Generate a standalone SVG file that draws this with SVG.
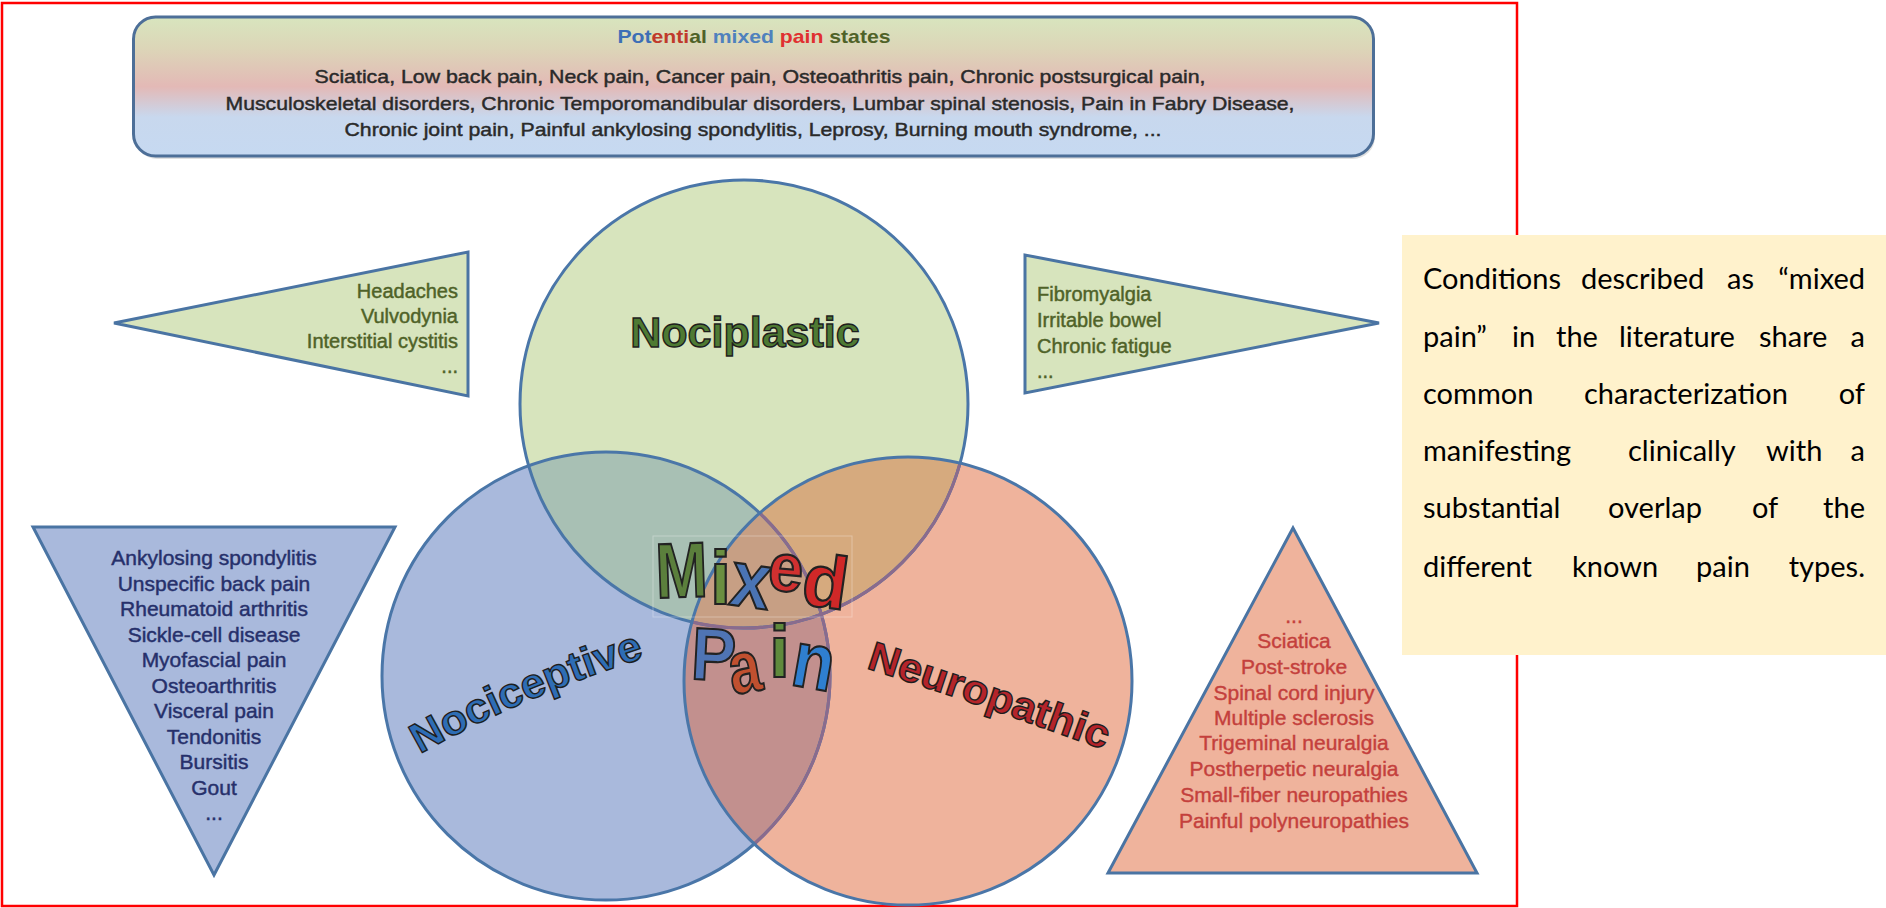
<svg xmlns="http://www.w3.org/2000/svg" width="1886" height="908" viewBox="0 0 1886 908">
<defs>
  <linearGradient id="boxGrad" x1="0" y1="0" x2="0" y2="1">
    <stop offset="0" stop-color="#d8e5be"/>
    <stop offset="0.22" stop-color="#dcd6b8"/>
    <stop offset="0.5" stop-color="#e3b9b6"/>
    <stop offset="0.72" stop-color="#c8d8ee"/>
    <stop offset="1" stop-color="#c6d9f1"/>
  </linearGradient>
  <clipPath id="cGreen"><circle cx="744" cy="404" r="224"/></clipPath>
  <clipPath id="cBlue"><circle cx="606" cy="676" r="224"/></clipPath>
  <clipPath id="cRed"><circle cx="908" cy="681" r="224"/></clipPath>
  <path id="pNoci" d="M 420,754 Q 522,696 656,654"/>
  <path id="pNeuro" d="M 866,668 Q 985,706 1110,752"/>
  <style>
    .shape { stroke:#4a74a3; stroke-width:3; }
    .ring { fill:none; stroke:#4a76a8; stroke-width:3; }
    .ringIn { fill:none; stroke:#8a6b8d; stroke-width:3; }
    .sans { font-family:"Liberation Sans", Arial, sans-serif; }
    .body { font-size:19px; fill:#2a2a2a; stroke:#2a2a2a; stroke-width:0.45; }
    .lst { font-size:20px; stroke-width:0.45; }
    .gtxt { fill:#4f6228; stroke:#4f6228; }
    .btxt { fill:#26306b; stroke:#26306b; font-size:21px; stroke-width:0.45; }
    .rtxt { fill:#c4403c; stroke:#c4403c; font-size:21px; stroke-width:0.4; }
    .big { font-weight:bold; stroke:#1e1e1e; stroke-width:1.4; }
    .wa { font-family:"Liberation Sans", Arial, sans-serif; font-weight:bold; stroke:#222; stroke-width:2.2; text-anchor:middle; }
    .note { font-family:Lato, "Open Sans", sans-serif; font-size:29px; fill:#000; }
  </style>
</defs>

<rect x="0" y="0" width="1886" height="908" fill="#ffffff"/>

<!-- outer red frame -->
<rect id="frame" x="2" y="3" width="1515" height="903" fill="none" stroke="#ff0000" stroke-width="2.5"/>

<!-- top box -->
<g id="states-box">
  <rect x="135" y="20" width="1240" height="139" rx="22" fill="#000" opacity="0.12"/>
  <rect x="133.5" y="17" width="1240" height="139" rx="22" fill="url(#boxGrad)" stroke="#4d6f98" stroke-width="3"/>
  <text class="sans" x="754" y="43" text-anchor="middle" font-size="19" font-weight="bold" textLength="273" lengthAdjust="spacingAndGlyphs"><tspan fill="#3d6fb6">Pot</tspan><tspan fill="#c0392b">enti</tspan><tspan fill="#4f6228">al</tspan> <tspan fill="#4f81bd">mixed</tspan> <tspan fill="#e03030">pain</tspan> <tspan fill="#4f6228">states</tspan></text>
  <text class="sans body" x="760" y="83" text-anchor="middle" textLength="891" lengthAdjust="spacingAndGlyphs">Sciatica, Low back pain, Neck pain, Cancer pain, Osteoathritis pain, Chronic postsurgical pain,</text>
  <text class="sans body" x="760" y="110" text-anchor="middle" textLength="1069" lengthAdjust="spacingAndGlyphs">Musculoskeletal disorders, Chronic Temporomandibular disorders, Lumbar spinal stenosis, Pain in Fabry Disease,</text>
  <text class="sans body" x="753" y="136" text-anchor="middle" textLength="817" lengthAdjust="spacingAndGlyphs">Chronic joint pain, Painful ankylosing spondylitis, Leprosy, Burning mouth syndrome, ...</text>
</g>

<!-- side triangles -->
<g id="nociplastic-left">
  <polygon class="shape" points="114,323 468,252 468,396" fill="#d7e4bd"/>
  <g class="sans lst gtxt" text-anchor="end">
    <text x="458" y="298">Headaches</text>
    <text x="458" y="323">Vulvodynia</text>
    <text x="458" y="348">Interstitial cystitis</text>
    <text x="458" y="373">...</text>
  </g>
</g>
<g id="nociplastic-right">
  <polygon class="shape" points="1025,255 1025,393 1379,323" fill="#d7e4bd"/>
  <g class="sans lst gtxt">
    <text x="1037" y="301">Fibromyalgia</text>
    <text x="1037" y="327">Irritable bowel</text>
    <text x="1037" y="353">Chronic fatigue</text>
    <text x="1037" y="378">...</text>
  </g>
</g>
<g id="nociceptive-list">
  <polygon class="shape" points="33,527 395,527 214,875" fill="#a9b9dc"/>
  <g class="sans btxt" text-anchor="middle">
    <text x="214" y="565">Ankylosing spondylitis</text>
    <text x="214" y="591">Unspecific back pain</text>
    <text x="214" y="616">Rheumatoid arthritis</text>
    <text x="214" y="642">Sickle-cell disease</text>
    <text x="214" y="667">Myofascial pain</text>
    <text x="214" y="693">Osteoarthritis</text>
    <text x="214" y="718">Visceral pain</text>
    <text x="214" y="744">Tendonitis</text>
    <text x="214" y="769">Bursitis</text>
    <text x="214" y="795">Gout</text>
    <text x="214" y="820">...</text>
  </g>
</g>
<g id="neuropathic-list">
  <polygon class="shape" points="1293,528 1477,873 1108,873" fill="#efb39c"/>
  <g class="sans rtxt" text-anchor="middle">
    <text x="1294" y="623">...</text>
    <text x="1294" y="648">Sciatica</text>
    <text x="1294" y="674">Post-stroke</text>
    <text x="1294" y="700">Spinal cord injury</text>
    <text x="1294" y="725">Multiple sclerosis</text>
    <text x="1294" y="750">Trigeminal neuralgia</text>
    <text x="1294" y="776">Postherpetic neuralgia</text>
    <text x="1294" y="802">Small-fiber neuropathies</text>
    <text x="1294" y="828">Painful polyneuropathies</text>
  </g>
</g>

<!-- Venn circles -->
<g id="venn">
  <circle id="nociplastic" cx="744" cy="404" r="224" fill="#d7e4bd"/>
  <circle id="nociceptive" cx="606" cy="676" r="224" fill="#a9b9dc"/>
  <circle id="neuropathic" cx="908" cy="681" r="224" fill="#efb39c"/>
  <circle cx="606" cy="676" r="224" fill="#a8c0b4" clip-path="url(#cGreen)"/>
  <circle cx="908" cy="681" r="224" fill="#d6aa7e" clip-path="url(#cGreen)"/>
  <circle cx="908" cy="681" r="224" fill="#c2908e" clip-path="url(#cBlue)"/>
  <g clip-path="url(#cBlue)"><circle cx="908" cy="681" r="224" fill="#c79f84" clip-path="url(#cGreen)"/></g>
  <circle class="ring" cx="744" cy="404" r="224"/>
  <circle class="ring" cx="606" cy="676" r="224"/>
  <g clip-path="url(#cRed)">
    <circle class="ringIn" cx="744" cy="404" r="224"/>
    <circle class="ringIn" cx="606" cy="676" r="224"/>
  </g>
  <circle class="ring" cx="908" cy="681" r="224"/>
  <rect x="653" y="536" width="199" height="81" fill="none" stroke="#ffffff" stroke-opacity="0.3" stroke-width="1"/>
</g>

<!-- circle labels -->
<g id="labels">
  <text class="sans big" x="745" y="347" text-anchor="middle" font-size="43" fill="#4e7a33">Nociplastic</text>
  <text class="sans big" font-size="42" fill="#2e6db5"><textPath href="#pNoci" textLength="245" lengthAdjust="spacingAndGlyphs">Nociceptive</textPath></text>
  <text class="sans big" font-size="41" fill="#b5242a"><textPath href="#pNeuro" textLength="252" lengthAdjust="spacingAndGlyphs">Neuropathic</textPath></text>
</g>

<g id="mixed-pain">
  <text class="wa" transform="translate(682.5,597) rotate(-2) scale(0.8,1)" font-size="78" fill="#5b7f3c">M</text>
  <text class="wa" transform="translate(720.5,604)" font-size="76" fill="#6a8f40">i</text>
  <text class="wa" transform="translate(747.5,607) rotate(8) scale(0.9,1)" font-size="80" fill="#4a74b4">x</text>
  <text class="wa" transform="translate(784,591) rotate(5) scale(0.92,1)" font-size="68" fill="#d03030">e</text>
  <text class="wa" transform="translate(822,607) rotate(8)" font-size="74" fill="#d02828">d</text>
  <text class="wa" transform="translate(712.5,680) rotate(3) scale(0.9,1)" font-size="74" fill="#4f74b4">P</text>
  <text class="wa" transform="translate(748.5,692) rotate(-10) scale(0.78,1)" font-size="74" fill="#c0502f">a</text>
  <text class="wa" transform="translate(779.5,677)" font-size="74" fill="#5f8a3c">i</text>
  <text class="wa" transform="translate(809.5,688) rotate(10) scale(0.85,1)" font-size="80" fill="#2f7fd0">n</text>
</g>

<!-- note box -->
<g id="note">
  <rect x="1402" y="235" width="484" height="420" fill="#fff2cc"/>
  <g class="note">
    <text x="1423" y="289">Conditions</text><text x="1581" y="289">described</text><text x="1727" y="289">as</text><text x="1865" y="289" text-anchor="end">“mixed</text>
    <text x="1423" y="347">pain”</text><text x="1512" y="347">in</text><text x="1556" y="347">the</text><text x="1619" y="347">literature</text><text x="1759" y="347">share</text><text x="1865" y="347" text-anchor="end">a</text>
    <text x="1423" y="404">common</text><text x="1584" y="404">characterization</text><text x="1865" y="404" text-anchor="end">of</text>
    <text x="1423" y="461">manifesting</text><text x="1628" y="461">clinically</text><text x="1766" y="461">with</text><text x="1865" y="461" text-anchor="end">a</text>
    <text x="1423" y="518">substantial</text><text x="1608" y="518">overlap</text><text x="1752" y="518">of</text><text x="1865" y="518" text-anchor="end">the</text>
    <text x="1423" y="577">different</text><text x="1572" y="577">known</text><text x="1696" y="577">pain</text><text x="1865" y="577" text-anchor="end">types.</text>
  </g>
</g>
</svg>
